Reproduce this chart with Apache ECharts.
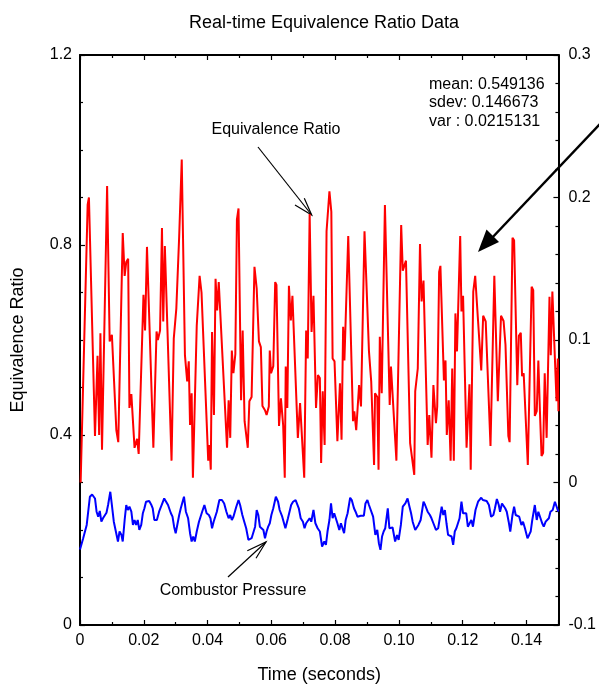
<!DOCTYPE html>
<html>
<head>
<meta charset="utf-8">
<script src="https://cdn.jsdelivr.net/npm/echarts@6/dist/echarts.min.js"></script>
<style>
html,body{margin:0;padding:0;background:#fff;}
#chart{width:599px;height:689px;}
</style>
</head>
<body>
<div id="chart"></div>
<script>
// Equivalence ratio (left axis): [time (s), value]
var ratioData = [
[0.0002,0.30],[0.0024,0.885],[0.0028,0.90],[0.0047,0.398],[0.0055,0.567],[0.0060,0.40],[0.0064,0.614],[0.0069,0.369],[0.0085,0.924],[0.0093,0.597],
[0.0100,0.611],[0.0114,0.41],[0.0120,0.385],[0.0134,0.825],[0.0140,0.735],[0.0145,0.764],[0.0151,0.771],[0.0155,0.457],[0.0161,0.486],[0.0171,0.373],
[0.0179,0.392],[0.0184,0.36],[0.0199,0.695],[0.0204,0.62],[0.0210,0.796],[0.0230,0.373],[0.0240,0.618],[0.0244,0.60],[0.0251,0.62],[0.0257,0.836],
[0.0261,0.639],[0.0266,0.798],[0.0287,0.346],[0.0294,0.603],[0.0302,0.666],[0.0311,0.819],[0.0319,0.98],[0.0329,0.568],[0.0336,0.513],[0.0341,0.555],
[0.0345,0.421],[0.0350,0.488],[0.0354,0.31],[0.0366,0.63],[0.0371,0.63],[0.0375,0.735],[0.0381,0.70],[0.0386,0.698],[0.0402,0.346],[0.0406,0.379],
[0.0410,0.327],[0.0414,0.617],[0.0420,0.442],[0.0425,0.729],[0.0430,0.662],[0.0435,0.722],[0.0441,0.718],[0.0461,0.373],[0.0466,0.473],[0.0471,0.394],
[0.0476,0.578],[0.0481,0.53],[0.0487,0.57],[0.0492,0.854],[0.0497,0.877],[0.0505,0.473],[0.0510,0.62],[0.0516,0.429],[0.0526,0.373],[0.0531,0.471],
[0.0538,0.48],[0.0547,0.754],[0.0554,0.708],[0.0561,0.597],[0.0567,0.585],[0.0572,0.461],[0.0580,0.452],[0.0585,0.442],[0.0592,0.46],[0.0595,0.578],
[0.0599,0.53],[0.0606,0.545],[0.0612,0.722],[0.0616,0.716],[0.0624,0.419],[0.0630,0.477],[0.0637,0.42],[0.0642,0.31],[0.0645,0.544],[0.0650,0.457],
[0.0655,0.714],[0.0661,0.641],[0.0666,0.693],[0.0683,0.394],[0.0690,0.467],[0.0703,0.31],[0.0709,0.62],[0.0714,0.561],[0.0720,0.865],[0.0726,0.617],
[0.0732,0.693],[0.0740,0.457],[0.0746,0.526],[0.0752,0.52],[0.0756,0.341],[0.0761,0.492],[0.0767,0.379],[0.0773,0.829],[0.0782,0.913],[0.0788,0.87],
[0.0792,0.561],[0.0798,0.555],[0.0807,0.387],[0.0815,0.509],[0.0820,0.39],[0.0825,0.628],[0.0829,0.557],[0.0841,0.819],[0.0856,0.429],[0.0860,0.45],
[0.0866,0.41],[0.0875,0.505],[0.0881,0.46],[0.0892,0.829],[0.0906,0.576],[0.0913,0.513],[0.0922,0.337],[0.0925,0.488],[0.0932,0.48],[0.0936,0.327],
[0.0940,0.607],[0.0946,0.488],[0.0956,0.884],[0.0971,0.463],[0.0975,0.544],[0.0992,0.346],[0.0996,0.344],[0.1007,0.842],[0.1012,0.746],[0.1018,0.744],
[0.1022,0.767],[0.1035,0.383],[0.1048,0.316],[0.1051,0.492],[0.1059,0.54],[0.1066,0.802],[0.1071,0.681],[0.1077,0.725],[0.1090,0.379],[0.1095,0.442],
[0.1102,0.352],[0.1108,0.505],[0.1112,0.507],[0.1116,0.425],[0.1120,0.46],[0.1126,0.743],[0.1130,0.756],[0.1141,0.515],[0.1146,0.557],[0.1150,0.40],
[0.1156,0.473],[0.1162,0.346],[0.1167,0.54],[0.1172,0.346],[0.1177,0.656],[0.1182,0.576],[0.1192,0.819],[0.1196,0.66],[0.1201,0.693],[0.1212,0.373],
[0.1216,0.373],[0.1221,0.507],[0.1225,0.327],[0.1233,0.702],[0.1239,0.735],[0.1248,0.64],[0.1258,0.536],[0.1264,0.651],[0.1272,0.639],[0.1287,0.377],
[0.1299,0.735],[0.1310,0.471],[0.1320,0.651],[0.1328,0.64],[0.1334,0.59],[0.1343,0.398],[0.1347,0.385],[0.1356,0.815],[0.1361,0.81],[0.1371,0.505],
[0.1376,0.609],[0.1382,0.615],[0.1386,0.524],[0.1391,0.53],[0.1404,0.337],[0.1416,0.712],[0.1421,0.705],[0.1426,0.44],[0.1432,0.45],[0.1437,0.557],
[0.1442,0.45],[0.1447,0.356],[0.1452,0.362],[0.1457,0.53],[0.1463,0.394],[0.1472,0.691],[0.1476,0.568],[0.1481,0.702],[0.1494,0.471],[0.1498,0.561],
[0.1500,0.45]
];

// Combustor pressure (right axis): [time (s), value]
var pressureData = [
[0,-0.047],[0.0003,-0.0461],[0.0010,-0.0391],[0.0021,-0.0298],[0.0031,-0.0100],[0.0038,-0.0084],[0.0047,-0.0112],[0.0052,-0.0205],[0.0057,-0.0240],[0.0062,-0.0200],
[0.0067,-0.0275],[0.0072,-0.0251],[0.0083,-0.0212],[0.0088,-0.0158],[0.0095,-0.0065],[0.0100,-0.0158],[0.0106,-0.0275],[0.0111,-0.0263],[0.0119,-0.0414],[0.0124,-0.0344],
[0.0130,-0.0368],[0.0134,-0.0414],[0.0140,-0.0263],[0.0145,-0.0158],[0.0150,-0.0193],[0.0155,-0.0170],[0.0161,-0.0205],[0.0166,-0.0298],[0.0171,-0.0263],[0.0176,-0.0298],
[0.0181,-0.0263],[0.0186,-0.0333],[0.0192,-0.0298],[0.0197,-0.0216],[0.0202,-0.0181],[0.0207,-0.0135],[0.0217,-0.0130],[0.0223,-0.0154],[0.0228,-0.0181],[0.0233,-0.0263],
[0.0241,-0.0263],[0.0248,-0.0205],[0.0256,-0.0158],[0.0264,-0.0112],[0.0270,-0.0135],[0.0276,-0.0158],[0.0285,-0.0216],[0.0290,-0.0240],[0.0295,-0.0310],[0.0300,-0.0356],
[0.0305,-0.0298],[0.0311,-0.0228],[0.0316,-0.0181],[0.0326,-0.0100],[0.0332,-0.0205],[0.0339,-0.0251],[0.0345,-0.0356],[0.0350,-0.0414],[0.0355,-0.0379],[0.0360,-0.0414],
[0.0366,-0.0344],[0.0373,-0.0275],[0.0383,-0.0205],[0.0390,-0.0158],[0.0397,-0.0216],[0.0404,-0.0228],[0.0409,-0.0251],[0.0414,-0.0321],[0.0419,-0.0275],[0.0429,-0.0205],
[0.0437,-0.0123],[0.0445,-0.0123],[0.0452,-0.0147],[0.0459,-0.0205],[0.0466,-0.0251],[0.0471,-0.0228],[0.0476,-0.0263],[0.0481,-0.0240],[0.0490,-0.0170],[0.0497,-0.0123],
[0.0502,-0.0158],[0.0509,-0.0228],[0.0515,-0.0275],[0.0521,-0.0321],[0.0528,-0.0403],[0.0538,-0.0391],[0.0543,-0.0403],[0.0549,-0.0310],[0.0554,-0.0193],[0.0559,-0.0228],
[0.0564,-0.0310],[0.0569,-0.0298],[0.0575,-0.0333],[0.0580,-0.0391],[0.0585,-0.0344],[0.0590,-0.0310],[0.0595,-0.0286],[0.0600,-0.0228],[0.0606,-0.0181],[0.0614,-0.0100],
[0.0621,-0.0135],[0.0626,-0.0193],[0.0634,-0.0240],[0.0640,-0.0251],[0.0644,-0.0321],[0.0652,-0.0251],[0.0662,-0.0158],[0.0668,-0.0135],[0.0676,-0.0123],[0.0681,-0.0123],
[0.0686,-0.0181],[0.0692,-0.0251],[0.0699,-0.0275],[0.0704,-0.0321],[0.0709,-0.0286],[0.0720,-0.0251],[0.0725,-0.0275],[0.0732,-0.0193],[0.0738,-0.0286],[0.0745,-0.0321],
[0.0752,-0.0344],[0.0759,-0.0449],[0.0766,-0.0414],[0.0771,-0.0438],[0.0776,-0.0344],[0.0782,-0.0263],[0.0787,-0.0147],[0.0792,-0.0251],[0.0797,-0.0216],[0.0802,-0.0216],
[0.0807,-0.0286],[0.0813,-0.0333],[0.0818,-0.0286],[0.0823,-0.0321],[0.0828,-0.0356],[0.0833,-0.0263],[0.0839,-0.0216],[0.0847,-0.0107],[0.0852,-0.0123],[0.0859,-0.0181],
[0.0864,-0.0205],[0.0870,-0.0240],[0.0880,-0.0233],[0.0890,-0.0233],[0.0895,-0.0147],[0.0901,-0.0123],[0.0906,-0.0158],[0.0911,-0.0170],[0.0919,-0.0240],[0.0926,-0.0368],
[0.0932,-0.0333],[0.0937,-0.0426],[0.0942,-0.0472],[0.0947,-0.0379],[0.0952,-0.0344],[0.0957,-0.0321],[0.0965,-0.0181],[0.0970,-0.0321],[0.0975,-0.0333],[0.0980,-0.0316],
[0.0988,-0.0414],[0.0994,-0.0368],[0.0999,-0.0403],[0.1006,-0.0298],[0.1012,-0.0170],[0.1020,-0.0147],[0.1027,-0.0112],[0.1033,-0.0170],[0.1038,-0.0216],[0.1043,-0.0275],
[0.1051,-0.0333],[0.1056,-0.0333],[0.1061,-0.0298],[0.1068,-0.0263],[0.1077,-0.0135],[0.1082,-0.0158],[0.1090,-0.0205],[0.1097,-0.0228],[0.1102,-0.0251],[0.1108,-0.0286],
[0.1113,-0.0298],[0.1116,-0.0333],[0.1123,-0.0321],[0.1128,-0.0251],[0.1134,-0.0170],[0.1139,-0.0228],[0.1144,-0.0193],[0.1149,-0.0286],[0.1154,-0.0368],[0.1159,-0.0356],
[0.1165,-0.0379],[0.1170,-0.0438],[0.1175,-0.0344],[0.1180,-0.0321],[0.1185,-0.0310],[0.1190,-0.0251],[0.1196,-0.0135],[0.1201,-0.0216],[0.1206,-0.0228],[0.1211,-0.0216],
[0.1216,-0.0310],[0.1221,-0.0310],[0.1227,-0.0263],[0.1232,-0.0310],[0.1240,-0.0193],[0.1248,-0.0135],[0.1252,-0.0135],[0.1258,-0.0107],[0.1263,-0.0123],[0.1268,-0.0135],
[0.1275,-0.0130],[0.1282,-0.0158],[0.1289,-0.0240],[0.1296,-0.0228],[0.1301,-0.0181],[0.1307,-0.0116],[0.1313,-0.0158],[0.1317,-0.0205],[0.1323,-0.0147],[0.1328,-0.0147],
[0.1333,-0.0181],[0.1338,-0.0205],[0.1344,-0.0275],[0.1349,-0.0344],[0.1356,-0.0228],[0.1361,-0.0170],[0.1366,-0.0228],[0.1372,-0.0240],[0.1377,-0.0240],[0.1384,-0.0298],
[0.1389,-0.0275],[0.1395,-0.0321],[0.1403,-0.0391],[0.1408,-0.0368],[0.1413,-0.0344],[0.1418,-0.0263],[0.1426,-0.0158],[0.1432,-0.0263],[0.1437,-0.0205],[0.1442,-0.0216],
[0.1449,-0.0286],[0.1454,-0.0310],[0.1460,-0.0275],[0.1465,-0.0275],[0.1470,-0.0251],[0.1475,-0.0205],[0.1482,-0.0193],[0.1489,-0.0135],[0.1496,-0.0181],[0.1500,-0.0205]
];

var statsLines = ['mean: 0.549136', 'sdev: 0.146673', 'var : 0.0215131'];
var titleText = 'Real-time Equivalence Ratio Data';

var FONT = '"Liberation Sans", Arial, sans-serif';
var chart = echarts.init(document.getElementById('chart'), null, {renderer: 'canvas'});

function fmtX(v){ return Math.abs(v) < 1e-9 ? '0' : v.toFixed(2); }
function fmtY(v){ return Math.abs(v) < 1e-9 ? '0' : (Math.round(v * 10) / 10).toFixed(1); }

var axisLineStyle = {show: true, onZero: false, lineStyle: {color: '#000', width: 2}};
var tickStyle = {show: true, inside: true, length: 5, lineStyle: {color: '#000', width: 1.2}};
var minorStyle = {length: 3, lineStyle: {color: '#000', width: 1.2}};
var labelBase = {color: '#000', fontSize: 16, fontFamily: FONT};

var option = {
  animation: false,
  backgroundColor: '#fff',
  title: {
    text: titleText, left: 319, top: 9, textAlign: 'center',
    textStyle: {fontSize: 18, fontWeight: 'normal', color: '#000', fontFamily: FONT}
  },
  grid: {left: 80, right: 36, top: 55, bottom: 61, containLabel: false},
  xAxis: [{
    type: 'value', position: 'bottom', min: 0, max: 0.15, interval: 0.02,
    axisLine: axisLineStyle, axisTick: tickStyle,
    minorTick: Object.assign({show: true, splitNumber: 2}, minorStyle),
    splitLine: {show: false},
    axisLabel: Object.assign({formatter: fmtX, margin: 8, showMaxLabel: false}, labelBase),
    name: 'Time (seconds)', nameLocation: 'middle', nameGap: 41,
    nameTextStyle: {fontSize: 18, color: '#000', fontFamily: FONT}
  }, {
    type: 'value', position: 'top', min: 0, max: 0.15, interval: 0.02,
    axisLine: axisLineStyle, axisTick: tickStyle,
    minorTick: Object.assign({show: true, splitNumber: 2}, minorStyle),
    splitLine: {show: false}, axisLabel: {show: false}
  }],
  yAxis: [{
    type: 'value', position: 'left', min: 0, max: 1.2, interval: 0.4,
    axisLine: axisLineStyle, axisTick: tickStyle,
    minorTick: Object.assign({show: true, splitNumber: 4}, minorStyle),
    splitLine: {show: false},
    axisLabel: Object.assign({formatter: fmtY, margin: 8}, labelBase),
    name: 'Equivalence Ratio', nameLocation: 'middle', nameGap: 53,
    nameTextStyle: {fontSize: 18, color: '#000', fontFamily: FONT}
  }, {
    type: 'value', position: 'right', min: -0.1, max: 0.3, interval: 0.1,
    axisLine: axisLineStyle, axisTick: tickStyle,
    minorTick: Object.assign({show: true, splitNumber: 5}, minorStyle),
    splitLine: {show: false},
    axisLabel: Object.assign({formatter: fmtY, margin: 10}, labelBase)
  }],
  series: [{
    name: 'Equivalence Ratio', type: 'line', xAxisIndex: 0, yAxisIndex: 0,
    data: ratioData, showSymbol: false, symbol: 'none',
    lineStyle: {color: '#ff0000', width: 2}, z: 3
  }, {
    name: 'Combustor Pressure', type: 'line', xAxisIndex: 0, yAxisIndex: 1,
    data: pressureData, showSymbol: false, symbol: 'none',
    lineStyle: {color: '#0000ff', width: 2}, z: 2
  }],
  graphic: [
    {type: 'text', left: 429, top: 75, style: {text: statsLines.join('\n'), font: '16px ' + FONT, fill: '#000', lineHeight: 18.5}},
    {type: 'text', x: 276, y: 130, style: {text: 'Equivalence Ratio', font: '16px ' + FONT, fill: '#000', align: 'center', verticalAlign: 'middle'}},
    {type: 'text', x: 233, y: 591, style: {text: 'Combustor Pressure', font: '16px ' + FONT, fill: '#000', align: 'center', verticalAlign: 'middle'}},
    // arrow to Equivalence Ratio peak
    {type: 'line', shape: {x1: 258, y1: 147, x2: 311.7, y2: 215}, style: {stroke: '#000', lineWidth: 1.2}},
    {type: 'polyline', shape: {points: [[295, 205], [311.7, 215], [304.3, 198.3]]}, style: {stroke: '#000', lineWidth: 1.2, fill: null}},
    // arrow to Combustor Pressure
    {type: 'line', shape: {x1: 228, y1: 577, x2: 266, y2: 542}, style: {stroke: '#000', lineWidth: 1.2}},
    {type: 'polyline', shape: {points: [[247.3, 550.7], [266, 542], [256, 558.3]]}, style: {stroke: '#000', lineWidth: 1.2, fill: null}},
    // big arrow from stats
    {type: 'line', shape: {x1: 600, y1: 124, x2: 490, y2: 240}, style: {stroke: '#000', lineWidth: 2.5}},
    {type: 'polygon', shape: {points: [[478, 252], [499, 242], [486.5, 229.5]]}, style: {fill: '#000'}}
  ]
};
chart.setOption(option);
</script>
</body>
</html>
